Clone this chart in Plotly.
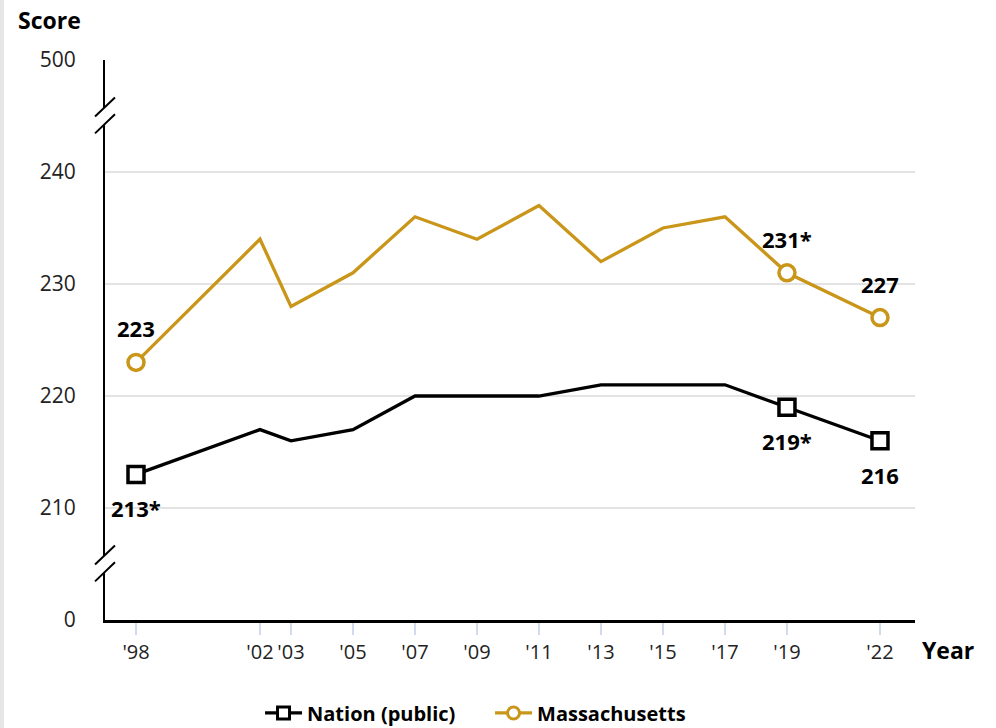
import plotly.graph_objects as go

years = [1998, 2002, 2003, 2005, 2007, 2009, 2011, 2013, 2015, 2017, 2019, 2022]
year_labels = ["'98", "'02", "'03", "'05", "'07", "'09", "'11", "'13", "'15", "'17", "'19", "'22"]
nation = [213, 217, 216, 217, 220, 220, 220, 221, 221, 221, 219, 216]
mass = [223, 234, 228, 231, 236, 234, 237, 232, 235, 236, 231, 227]
nation_labels = {1998: "213*", 2019: "219*", 2022: "216"}
mass_labels = {1998: "223", 2019: "231*", 2022: "227"}
y_tickvals = [200, 210, 220, 230, 240, 250]
y_ticktext = ["0", "210", "220", "230", "240", "500"]

GOLD = "#C9961A"
FONT = "Open Sans"

fig = go.Figure()

series = [
    ("Nation (public)", nation, nation_labels, "black", "square", -34),
    ("Massachusetts", mass, mass_labels, GOLD, "circle", 34),
]

for name, vals, labels, color, symbol, shift in series:
    fig.add_trace(go.Scatter(x=years, y=vals, mode="lines", showlegend=False,
                             line=dict(color=color, width=3.3), hoverinfo="skip"))
    mx = [x for x in years if x in labels]
    my = [v for x, v in zip(years, vals) if x in labels]
    fig.add_trace(go.Scatter(x=mx, y=my, mode="markers", showlegend=False,
                             marker=dict(symbol=symbol, size=16, color="white",
                                         line=dict(color=color, width=3.5)),
                             hoverinfo="skip"))
    fig.add_trace(go.Scatter(x=[None], y=[None], mode="lines+markers", name=name,
                             line=dict(color=color, width=3.3),
                             marker=dict(symbol=symbol, size=12, color="white",
                                         line=dict(color=color, width=3))))
    for x, v in zip(mx, my):
        fig.add_annotation(x=x, y=v, text=labels[x], showarrow=False, yshift=shift,
                           font=dict(family=FONT, size=22, color="black", weight="bold"))

fig.add_annotation(xref="paper", yref="paper", x=-0.11, y=1.071, xanchor="left", yanchor="middle",
                   text="Score", showarrow=False, font=dict(family=FONT, size=23, color="black", weight="bold"))
fig.add_annotation(xref="paper", yref="paper", x=1.006, y=-0.054, xanchor="left", yanchor="middle",
                   text="Year", showarrow=False, font=dict(family=FONT, size=23, color="black", weight="bold"))

shapes = []
for yc in [245.05, 205.05]:
    shapes.append(dict(type="path", xref="paper", yref="y",
                       path=f"M -0.013 {yc-1.6} L 0.013 {yc+0.1} L 0.013 {yc+1.6} L -0.013 {yc-0.1} Z",
                       fillcolor="white", line=dict(width=0), layer="above"))
    for d in (-0.75, 0.75):
        shapes.append(dict(type="line", xref="paper", yref="y",
                           x0=-0.0123, y0=yc + d - 0.85, x1=0.0123, y1=yc + d + 0.85,
                           line=dict(color="black", width=2), layer="above"))
shapes.append(dict(type="rect", xref="paper", yref="paper", x0=-105/810, x1=-101/810,
                   y0=-108/560, y1=1 + 60/560, fillcolor="#E6E6E6", line=dict(width=0), layer="below"))
fig.update_layout(shapes=shapes)

fig.update_xaxes(range=[1997, 2023.13], tickvals=years, ticktext=year_labels,
                 showgrid=False, showline=True, linecolor="black", linewidth=2.5,
                 ticks="outside", ticklen=12, tickwidth=2, tickcolor="#D0DCEE",
                 tickfont=dict(family=FONT, size=20, color="#222222"), zeroline=False,
                 automargin=False)
fig.update_yaxes(range=[200, 250], tickvals=y_tickvals, ticktext=y_ticktext,
                 showgrid=True, gridcolor="#E3E3E3", gridwidth=2,
                 showline=True, linecolor="black", linewidth=2, ticks="",
                 ticklabelstandoff=23,
                 tickfont=dict(family=FONT, size=21, color="#222222"), zeroline=False,
                 automargin=False)

fig.update_layout(
    width=996, height=728,
    margin=dict(l=105, r=81, t=60, b=108, autoexpand=False),
    plot_bgcolor="white", paper_bgcolor="white",
    showlegend=True,
    legend=dict(orientation="h", x=0.1914, y=-0.166, xanchor="left", yanchor="middle",
                font=dict(family=FONT, size=20, color="black", weight="bold"),
                itemwidth=37, entrywidth=178, entrywidthmode="pixels",
                traceorder="normal"),
    font=dict(family=FONT),
)

fig.write_html("out.html", config={"displayModeBar": False},
               post_script="document.body.style.margin='0';document.body.style.overflow='hidden';")
